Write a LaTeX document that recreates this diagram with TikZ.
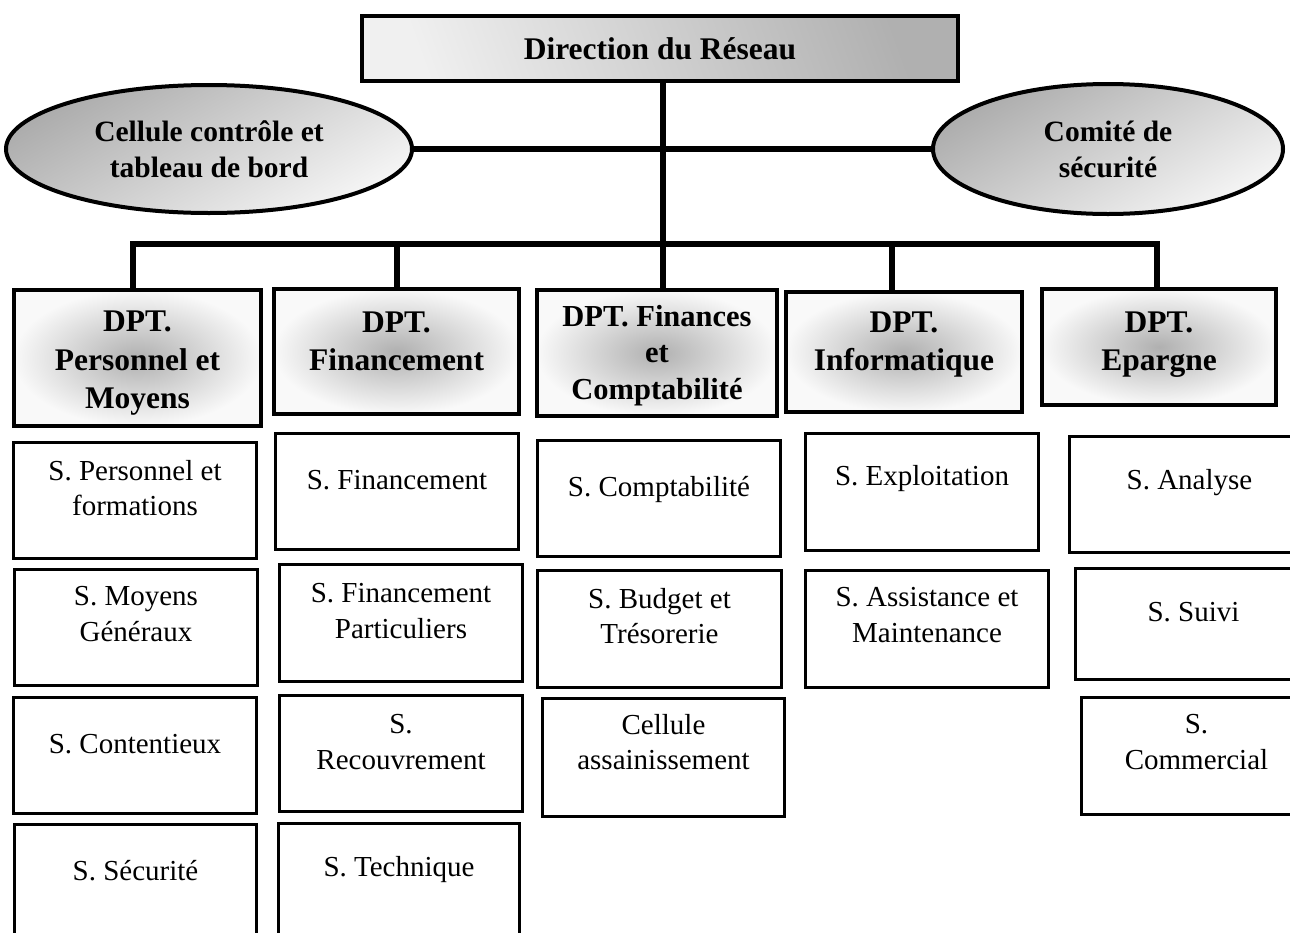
\documentclass[tikz,border=0pt]{standalone}
\usepackage{fontspec}
\setmainfont{Liberation Serif}
\usetikzlibrary{shapes.geometric,shadings}
\begin{document}
\begin{tikzpicture}[x=1pt,y=-1pt,
  conn/.style={line width=6pt,line join=miter},
  topbox/.style={draw,line width=4pt,anchor=north west,inner sep=0pt,
    top color=gray!62,bottom color=gray!12,shading angle=-70,
    font=\bfseries\fontsize{31.5}{37}\selectfont},
  oval/.style={ellipse,draw,line width=4pt,inner sep=0pt,align=center,
    top color=gray!65,bottom color=gray!8,shading angle=30,
    font=\bfseries\fontsize{29.5}{36}\selectfont},
  dept/.style={draw,line width=4pt,anchor=north west,inner sep=0pt,
    inner color=gray!62,outer color=gray!5},
  depttext/.style={align=center,inner sep=0pt,anchor=north,
    font=\bfseries\fontsize{31.5}{37.5}\selectfont},
  svc/.style={draw,line width=3pt,anchor=north west,inner sep=0pt,fill=white},
  svctext/.style={align=center,inner sep=0pt,font=\fontsize{29}{35.5}\selectfont}
]
\clip (0,0) rectangle (1290,932);
\fill[white] (0,0) rectangle (1290,932);

% top
\node[topbox,minimum width=596pt,minimum height=65pt] (top) at (360,14) {Direction du Réseau};

% ellipses
\node[oval,minimum width=406pt,minimum height=128pt] (cel) at (209,149) {Cellule contrôle et\\tableau de bord};
\node[oval,minimum width=350pt,minimum height=130pt] (com) at (1108,149) {Comité de\\sécurité};

% departments
\node[dept,minimum width=247pt,minimum height=136pt] (d1) at (12,288) {};
\node[depttext,font=\bfseries\fontsize{31.5}{38.5}\selectfont] (d1t) at ([yshift=-23pt]d1.north) {DPT.\\Personnel et\\Moyens};
\node[dept,minimum width=245pt,minimum height=125pt] (d2) at (272,287) {};
\node[depttext] (d2t) at ([yshift=-25pt]d2.north) {DPT.\\Financement};
\node[dept,minimum width=240pt,minimum height=126pt] (d3) at (535,288) {};
\node[depttext,font=\bfseries\fontsize{30.5}{36.5}\selectfont] (d3t) at ([yshift=-17pt]d3.north) {DPT. Finances\\et\\Comptabilité};
\node[dept,minimum width=236pt,minimum height=120pt] (d4) at (784,290) {};
\node[depttext] (d4t) at ([yshift=-22pt]d4.north) {DPT.\\Informatique};
\node[dept,minimum width=234pt,minimum height=116pt] (d5) at (1040,287) {};
\node[depttext] (d5t) at ([yshift=-25pt]d5.north) {DPT.\\Epargne};

% connectors
\coordinate (b1) at (133,244);
\coordinate (b2) at (397,244);
\coordinate (b3) at (663,244);
\coordinate (b4) at (892,244);
\coordinate (b5) at (1157,244);
\draw[conn] (b1 |- d1.north) -- (b1) -- (b5) -- (b5 |- d5.north);
\draw[conn] (b2) -- (b2 |- d2.north);
\draw[conn] (b4) -- (b4 |- d4.north);
\draw[conn] (top.south -| b3) -- (b3 |- d3.north);
\draw[conn] (cel.east) -- (com.west);

% services column 1
\node[svc,minimum width=243pt,minimum height=116pt] (s11) at (12,441) {};
\node[svctext] (s11t) at ([yshift=-47pt]s11.north) {S. Personnel et\\formations};
\node[svc,minimum width=243pt,minimum height=116pt] (s12) at (13,568) {};
\node[svctext] (s12t) at ([yshift=-46pt]s12.north) {S. Moyens\\Généraux};
\node[svc,minimum width=243pt,minimum height=116pt] (s13) at (12,696) {};
\node[svctext] (s13t) at ([yshift=-48pt]s13.north) {S. Contentieux};
\node[svc,minimum width=242pt,minimum height=140pt] (s14) at (13,823) {};
\node[svctext] (s14t) at ([yshift=-48pt]s14.north) {S. Sécurité};

% services column 2
\node[svc,minimum width=243pt,minimum height=116pt] (s21) at (274,432) {};
\node[svctext] (s21t) at ([yshift=-48pt]s21.north) {S. Financement};
\node[svc,minimum width=243pt,minimum height=117pt] (s22) at (278,563) {};
\node[svctext] (s22t) at ([yshift=-48pt]s22.north) {S. Financement\\Particuliers};
\node[svc,minimum width=243pt,minimum height=116pt] (s23) at (278,694) {};
\node[svctext] (s23t) at ([yshift=-48pt]s23.north) {S.\\Recouvrement};
\node[svc,minimum width=241pt,minimum height=140pt] (s24) at (277,822) {};
\node[svctext] (s24t) at ([yshift=-48pt]s24.north) {S. Technique};

% services column 3
\node[svc,minimum width=243pt,minimum height=116pt] (s31) at (536,439) {};
\node[svctext] (s31t) at ([yshift=-50pt]s31.north) {S. Comptabilité};
\node[svc,minimum width=244pt,minimum height=117pt] (s32) at (536,569) {};
\node[svctext] (s32t) at ([yshift=-47pt]s32.north) {S. Budget et\\Trésorerie};
\node[svc,minimum width=242pt,minimum height=118pt] (s33) at (541,697) {};
\node[svctext] (s33t) at ([yshift=-45pt]s33.north) {Cellule\\assainissement};

% services column 4
\node[svc,minimum width=233pt,minimum height=117pt] (s41) at (804,432) {};
\node[svctext] (s41t) at ([yshift=-47pt]s41.north) {S. Exploitation};
\node[svc,minimum width=243pt,minimum height=117pt] (s42) at (804,569) {};
\node[svctext] (s42t) at ([yshift=-46pt]s42.north) {S. Assistance et\\Maintenance};

% services column 5
\node[svc,minimum width=240pt,minimum height=116pt] (s51) at (1068,435) {};
\node[svctext] (s51t) at ([yshift=-48pt]s51.north) {S. Analyse};
\node[svc,minimum width=236pt,minimum height=111pt] (s52) at (1074,567) {};
\node[svctext] (s52t) at ([yshift=-45pt]s52.north) {S. Suivi};
\node[svc,minimum width=230pt,minimum height=117pt] (s53) at (1080,696) {};
\node[svctext] (s53t) at ([yshift=-46pt]s53.north) {S.\\Commercial};
\end{tikzpicture}
\end{document}
